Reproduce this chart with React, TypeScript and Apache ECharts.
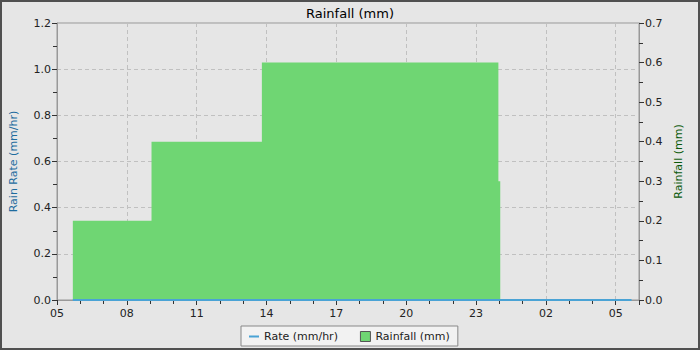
import React, { useEffect, useRef } from "react";
import * as echarts from "echarts";

// hours since 05:00 on the first day
const xTickLabels = ["05", "08", "11", "14", "17", "20", "23", "02", "05"];
const rateTimes = [0.68, 24.68];
const rateValues = [0, 0];
const rainTimes = [0.68, 4.06, 8.8, 18.96, 19.04, 24.68];
const rainValues = [0.2, 0.4, 0.6, 0.3, 0, 0];

const FONT = "DejaVu Sans";

export default function App() {
  const ref = useRef<HTMLDivElement>(null);
  useEffect(() => {
    document.body.style.margin = "0";
    const chart = echarts.init(ref.current!, null, { renderer: "svg" });
    const rateData = rateTimes.map((t, i) => [t, rateValues[i]]);
    const rainData = rainTimes.map((t, i) => [t, rainValues[i]]);
    const tickStyle = { color: "#333", width: 1 };
    chart.setOption({
      animation: false,
      backgroundColor: "#e6e6e6",
      textStyle: { fontFamily: FONT },
      title: {
        text: "Rainfall (mm)",
        left: "center",
        top: 2,
        textStyle: { fontFamily: FONT, fontSize: 13, fontWeight: "normal", color: "#000" },
      },
      grid: {
        left: 55,
        right: 61,
        top: 23,
        bottom: 50,
        show: true,
        borderColor: "#999",
        borderWidth: 1,
        backgroundColor: "transparent",
      },
      legend: {
        left: 241,
        top: 326,
        orient: "horizontal",
        backgroundColor: "#f2f2f2",
        borderColor: "#888",
        borderWidth: 1,
        borderRadius: 0,
        padding: [5, 8, 4, 8],
        itemGap: 22,
        itemWidth: 10,
        itemHeight: 10,
        textStyle: { fontFamily: FONT, fontSize: 11, color: "#222" },
        data: [
          { name: "Rate (mm/hr)", icon: "path://M0,0 h10 v2 h-10 z" },
          { name: "Rainfall (mm)", icon: "rect", itemStyle: { borderColor: "#555", borderWidth: 1 } },
        ],
      },
      xAxis: {
        type: "value",
        min: 0,
        max: 25,
        interval: 3,
        axisLine: { lineStyle: { color: "#999" } },
        axisTick: { show: true, length: 5, lineStyle: tickStyle },
        minorTick: { show: true, splitNumber: 3, length: 4, lineStyle: tickStyle },
        axisLabel: {
          fontFamily: FONT,
          fontSize: 11,
          color: "#222",
          margin: 8,
          showMaxLabel: false,
          formatter: (v: number) =>
            Math.abs(v / 3 - Math.round(v / 3)) < 1e-6 ? xTickLabels[Math.round(v / 3)] ?? "" : "",
        },
        splitLine: { show: true, lineStyle: { color: "#c0c0c0", type: [4, 3] } },
      },
      yAxis: [
        {
          type: "value",
          min: 0,
          max: 1.2,
          interval: 0.2,
          name: "Rain Rate (mm/hr)",
          nameLocation: "middle",
          nameGap: 38,
          nameTextStyle: { fontFamily: FONT, fontSize: 11, color: "#1e6c9e" },
          axisLine: { show: true, lineStyle: { color: "#999" } },
          axisTick: { show: true, length: 5, lineStyle: tickStyle },
          minorTick: { show: true, splitNumber: 2, length: 4, lineStyle: tickStyle },
          axisLabel: {
            fontFamily: FONT,
            fontSize: 11,
            color: "#222",
            margin: 6,
            formatter: (v: number) => v.toFixed(1),
          },
          splitLine: { show: true, lineStyle: { color: "#c0c0c0", type: [4, 3] } },
        },
        {
          type: "value",
          min: 0,
          max: 0.7,
          interval: 0.1,
          position: "right",
          name: "Rainfall (mm)",
          nameLocation: "middle",
          nameGap: 28,
          nameRotate: 90,
          nameTextStyle: { fontFamily: FONT, fontSize: 11, color: "#0b5a0b" },
          axisLine: { show: true, lineStyle: { color: "#999" } },
          axisTick: { show: true, length: 5, lineStyle: tickStyle },
          minorTick: { show: true, splitNumber: 2, length: 4, lineStyle: tickStyle },
          axisLabel: {
            fontFamily: FONT,
            fontSize: 11,
            color: "#222",
            margin: 6,
            formatter: (v: number) => v.toFixed(1),
          },
          splitLine: { show: false },
        },
      ],
      series: [
        {
          name: "Rainfall (mm)",
          type: "line",
          yAxisIndex: 1,
          step: "end",
          data: rainData,
          showSymbol: false,
          symbol: "none",
          color: "#6fd673",
          lineStyle: { width: 0, color: "#6fd673" },
          areaStyle: { color: "#6fd673", opacity: 1 },
          z: 2,
        },
        {
          name: "Rate (mm/hr)",
          type: "line",
          yAxisIndex: 0,
          data: rateData,
          showSymbol: false,
          symbol: "none",
          color: "#4aa3d5",
          lineStyle: { width: 2, color: "#4aa3d5" },
          z: 3,
        },
      ],
      graphic: [
        {
          type: "rect",
          shape: { x: 1, y: 1, width: 698, height: 348 },
          style: { fill: "none", stroke: "#505050", lineWidth: 2 },
          z: 100,
          silent: true,
        },
      ],
    });
    return () => chart.dispose();
  }, []);
  return (
    <div
      ref={ref}
      style={{ position: "absolute", left: 0, top: 0, width: 700, height: 350 }}
    />
  );
}
